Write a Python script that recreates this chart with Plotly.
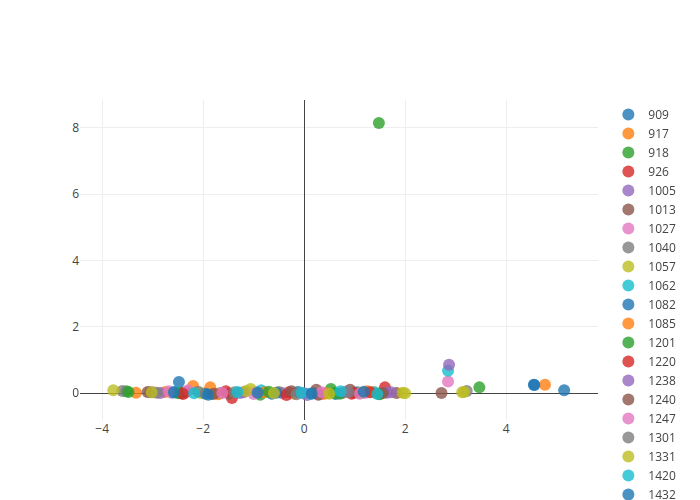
import plotly.graph_objects as go

names = ["909", "917", "918", "926", "1005", "1013", "1027", "1040", "1057", "1062",
         "1082", "1085", "1201", "1220", "1238", "1240", "1247", "1301", "1331", "1420", "1432"]

xs = [
    [-2.48, -1.83, -0.64, 0.18, 1.05, 4.55],
    [-3.33, -2.20, -1.86, -0.20, 0.38, 1.36, 4.77],
    [-3.52, -2.45, -0.87, 0.53, 1.48, 1.50],
    [-2.42, -1.43, -0.30, 0.94, 1.60],
    [-2.62, -1.27, -0.44, 0.06, 1.64],
    [-2.35, -1.49, 0.24, 0.91, 1.83, 2.72],
    [-2.99, -2.30, -0.95, 0.30, 1.20, 2.85],
    [-3.60, -3.05, -1.66, -0.50, 0.75, 3.22],
    [-3.78, -2.03, -1.06, 1.11, 2.00, 3.13],
    [-2.55, -0.85, 0.10, 1.40, 2.85],
    [-1.95, -0.55, -0.12, 0.62, 4.56, 5.15],
    [-2.75, -1.70, -0.78, 0.45, 1.25],
    [-3.48, -2.50, -0.70, 0.60, 0.70, 1.49, 3.47],
    [-2.40, -1.55, -0.35, 0.98, 1.30],
    [-2.85, -1.20, 0.00, 0.82, 1.72, 2.87],
    [-3.10, -1.78, -0.25, 0.28, 1.56],
    [-2.68, -1.62, -1.00, 0.35, 1.10],
    [-2.92, -2.10, -1.38, -0.15, 0.88],
    [-3.02, -1.15, -0.60, 0.50, 1.95, 3.17],
    [-2.18, -1.32, -0.05, 0.72, 1.45],
    [-2.58, -1.90, -0.92, 0.15, 1.18],
]
ys = [
    [0.33, -0.03, -0.02, 0.00, 0.02, 0.25],
    [0.01, 0.21, 0.17, -0.02, -0.03, 0.03, 0.25],
    [0.05, 0.00, -0.05, 0.12, 8.15, -0.03],
    [0.00, -0.15, 0.02, -0.02, 0.17],
    [0.01, 0.00, 0.00, -0.06, 0.01],
    [0.02, -0.02, 0.10, 0.10, 0.00, 0.00],
    [0.02, 0.08, 0.03, -0.04, 0.00, 0.35],
    [0.06, 0.02, 0.00, 0.03, -0.01, 0.06],
    [0.08, -0.01, 0.12, 0.00, -0.01, 0.02],
    [0.04, 0.08, -0.02, 0.02, 0.67],
    [-0.02, 0.01, 0.03, -0.03, 0.24, 0.08],
    [0.03, -0.04, 0.02, -0.01, 0.05],
    [0.03, -0.01, 0.04, 0.00, -0.02, -0.04, 0.17],
    [-0.03, 0.05, -0.06, 0.01, 0.02],
    [0.00, 0.02, -0.01, 0.04, 0.02, 0.85],
    [0.03, -0.02, 0.05, -0.05, 0.00],
    [0.05, 0.00, -0.03, 0.02, -0.02],
    [0.01, 0.04, 0.02, -0.04, 0.03],
    [0.02, 0.06, 0.00, -0.02, 0.01, 0.03],
    [-0.01, 0.03, 0.01, 0.05, -0.03],
    [0.02, -0.05, 0.01, -0.02, 0.04],
]

fig = go.Figure()
for n, x, y in zip(names, xs, ys):
    fig.add_trace(go.Scatter(x=x, y=y, mode="markers", name=n,
                             marker=dict(size=12), opacity=0.8))

fig.update_layout(
    template="none",
    width=692, height=492,
    font=dict(family="Open Sans", color="#444"),
    margin=dict(l=72, r=102, t=92, b=80, autoexpand=False),
    legend=dict(x=1.02, y=1, xanchor="left", yanchor="top", maxheight=1000),
    xaxis=dict(range=[-4.44, 5.82], gridcolor="#eee", zerolinecolor="#444", showline=False),
    yaxis=dict(range=[-0.815, 8.845], gridcolor="#eee", zerolinecolor="#444", showline=False),
    plot_bgcolor="white", paper_bgcolor="white",
)
fig.write_html("out.html")
